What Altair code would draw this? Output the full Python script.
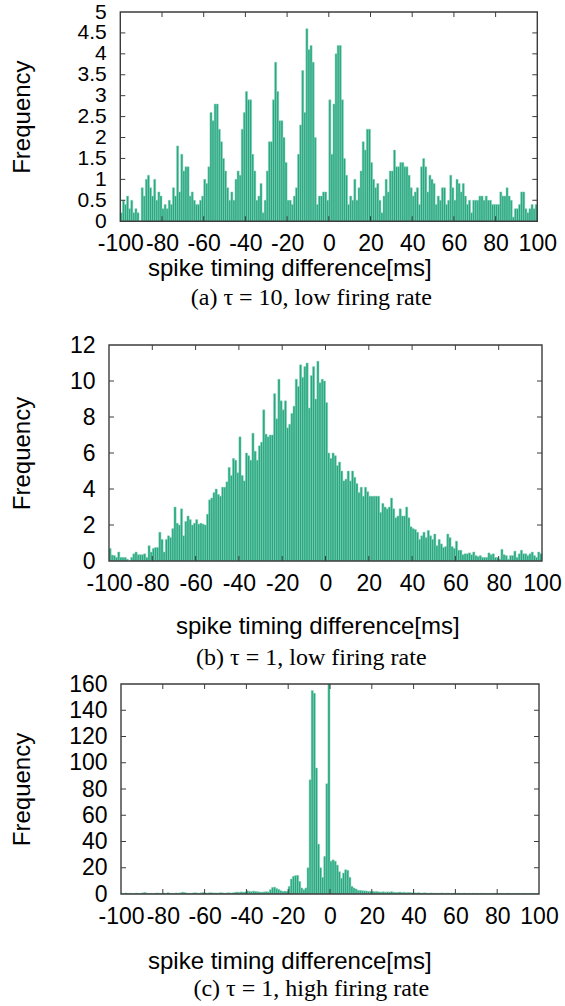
import altair as alt
import pandas as pd

# ---------------- data ----------------
bin_start = list(range(-100, 100))          # 1 ms bins, left edges

freq_a = [
    0.2, 0.5, 0.4, 0.6, 0.3, 0.5, 0.2, 0.3, 0.2, 0.0,
    0.8, 0.6, 1.0, 1.1, 0.8, 0.6, 1.0, 0.5, 0.7, 0.6,
    0.3, 0.4, 0.3, 0.5, 0.4, 0.8, 0.6, 1.8, 0.7, 1.6,
    1.2, 1.3, 1.3, 0.6, 0.7, 0.5, 0.4, 0.4, 0.5, 0.6,
    1.0, 0.9, 1.3, 2.6, 2.4, 2.8, 2.8, 2.2, 1.9, 1.5,
    1.2, 0.8, 0.5, 0.7, 0.5, 1.0, 1.2, 1.1, 2.2, 2.6,
    3.1, 2.9, 2.9, 1.6, 1.2, 0.5, 0.6, 0.9, 0.2, 0.5,
    1.2, 1.9, 1.9, 2.9, 3.8, 3.1, 2.4, 2.4, 2.0, 1.4,
    0.5, 0.5, 0.4, 0.6, 0.8, 1.6, 2.3, 3.6, 2.6, 4.6,
    4.1, 4.2, 3.8, 2.0, 0.4, 0.6, 0.6, 0.7, 0.7, 0.5,
    2.9, 1.6, 2.8, 4.0, 4.2, 4.2, 2.9, 1.5, 1.1, 0.4,
    0.6, 0.5, 1.0, 0.5, 0.8, 1.2, 1.9, 1.7, 2.2, 2.2,
    1.4, 1.0, 0.8, 0.9, 0.5, 0.2, 0.6, 1.0, 0.7, 1.2,
    1.2, 1.7, 1.3, 1.3, 1.4, 1.4, 1.3, 1.3, 1.1, 0.8,
    0.6, 0.7, 0.8, 0.4, 1.3, 1.5, 1.3, 0.7, 1.1, 1.0,
    0.9, 0.4, 0.6, 0.5, 0.8, 0.8, 0.4, 0.5, 1.1, 0.8,
    0.5, 1.0, 0.9, 0.7, 0.9, 0.6, 0.4, 0.5, 0.2, 0.5,
    0.5, 0.5, 0.6, 0.6, 0.5, 0.6, 0.5, 0.5, 0.4, 0.4,
    0.4, 0.4, 0.7, 0.6, 0.6, 0.8, 0.6, 0.5, 0.1, 0.3,
    0.3, 0.4, 0.7, 0.7, 0.3, 0.2, 0.3, 0.4, 0.3, 0.4,
]

freq_b = [
    0.7, 0.33, 0.3, 0.2, 0.5, 0.2, 0.2, 0.2, 0.1, 0.0,
    0.2, 0.4, 0.5, 0.35, 0.35, 0.35, 0.4, 0.2, 0.85, 0.5,
    0.7, 0.75, 0.75, 1.6, 1.2, 0.5, 1.2, 1.4, 1.3, 1.8,
    3.0, 2.1, 2.0, 2.9, 1.4, 2.2, 2.5, 2.3, 2.0, 2.1,
    2.3, 2.05, 2.1, 2.05, 2.0, 2.6, 3.4, 3.5, 3.8, 4.0,
    3.7, 3.6, 4.1, 4.1, 4.4, 5.2, 4.75, 5.7, 5.6, 4.9,
    6.9, 4.75, 4.45, 6.0, 5.85, 5.6, 7.1, 6.1, 5.6, 6.4,
    6.6, 8.4, 7.05, 6.9, 7.0, 7.0, 9.3, 7.9, 10.1, 8.9,
    8.4, 8.9, 7.4, 7.6, 8.2, 8.6, 10.1, 9.7, 10.9, 10.2,
    10.8, 11.0, 8.5, 10.3, 10.8, 9.0, 11.1, 9.9, 10.1, 10.0,
    8.8, 6.0, 5.7, 6.0, 5.85, 5.3, 5.5, 5.0, 4.45, 4.55,
    5.0, 4.45, 5.0, 4.65, 4.3, 3.8, 4.1, 3.6, 4.1, 3.85,
    3.6, 3.6, 3.6, 3.6, 3.6, 2.7, 3.2, 3.0, 2.9, 3.0,
    3.5, 2.9, 2.4, 2.5, 2.9, 2.5, 2.5, 3.0, 2.4, 1.9,
    1.8, 1.75, 1.6, 1.2, 1.4, 1.6, 1.3, 1.7, 1.4, 1.2,
    1.5, 0.85, 1.2, 0.95, 0.75, 0.8, 1.5, 1.3, 0.8, 0.7,
    1.1, 0.6, 0.6, 0.35, 0.4, 0.4, 0.45, 0.35, 0.5, 0.3,
    0.25, 0.3, 0.2, 0.2, 0.2, 0.45, 0.35, 0.4, 0.2, 0.2,
    0.1, 0.65, 0.35, 0.3, 0.1, 0.3, 0.3, 0.55, 0.2, 0.4,
    0.6, 0.4, 0.4, 0.3, 0.4, 0.5, 0.3, 0.2, 0.5, 0.4,
]

freq_c = [
    0.5, 0.3, 0.8, 0.4, 0.6, 0.2, 0.5, 0.7, 0.3, 0.5,
    0.9, 1.2, 0.6, 0.4, 0.5, 0.3, 0.6, 0.8, 0.5, 0.4,
    0.7, 0.5, 1.0, 0.6, 0.4, 0.5, 0.8, 0.6, 0.9, 1.4,
    1.1, 0.7, 0.6, 0.5, 0.8, 1.0, 0.7, 0.6, 0.9, 1.2,
    0.8, 0.7, 1.0, 0.9, 0.8, 0.8, 0.7, 1.0, 0.9, 0.6,
    0.8, 1.0, 0.7, 0.9, 1.2, 1.5, 1.3, 1.6, 1.4, 1.5,
    2.5, 2.0, 1.8, 2.2, 1.9, 1.7, 1.5, 1.4, 1.6, 1.8,
    1.6, 3.3, 5.0, 5.2, 4.2, 3.5, 2.5, 2.0, 2.2, 2.0,
    5.8, 11.4, 13.5, 14.0, 14.2, 9.6, 4.6, 3.3, 4.6, 20,
    87, 155, 153, 96, 38, 20, 12.7, 28.7, 84, 170,
    25, 26, 25, 22, 17, 12, 16, 18.5, 18, 12.7,
    5.8, 4.6, 3.8, 2.8, 2.8, 2.5, 2.4, 2.3, 2.0, 2.1,
    2.0, 1.8, 1.9, 1.6, 1.5, 1.7, 1.4, 1.6, 1.5, 1.8,
    1.4, 1.2, 1.3, 1.5, 1.1, 1.3, 1.0, 1.2, 1.1, 0.9,
    0.9, 0.8, 1.0, 0.7, 0.8, 0.9, 0.6, 0.7, 0.8, 0.6,
    0.7, 0.5, 0.6, 0.8, 0.5, 0.6, 0.7, 0.4, 0.5, 0.6,
    0.5, 0.7, 0.4, 0.5, 0.6, 0.4, 0.5, 0.3, 0.6, 0.4,
    0.5, 0.4, 0.6, 0.3, 0.5, 0.4, 0.3, 0.5, 0.4, 0.6,
    0.3, 0.4, 0.5, 0.3, 0.4, 0.6, 0.3, 0.4, 0.5, 0.3,
    0.4, 0.3, 0.5, 0.4, 0.3, 0.4, 0.5, 0.3, 0.4, 0.3,
]

x_ticks = [-100, -80, -60, -40, -20, 0, 20, 40, 60, 80, 100]
y_ticks_a = [0, 0.5, 1, 1.5, 2, 2.5, 3, 3.5, 4, 4.5, 5]
y_ticks_b = [0, 2, 4, 6, 8, 10, 12]
y_ticks_c = [0, 20, 40, 60, 80, 100, 120, 140, 160]
x_title = "spike timing difference[ms]"
y_title = "Frequency"
captions = ["(a) \u03c4 = 10, low firing rate",
            "(b) \u03c4 = 1, low firing rate",
            "(c) \u03c4 = 1, high firing rate"]

# ---------------- style ----------------
BAR = "#28a680"
EDGE = "#86d4b8"
FRAME = "#3c3c3c"
SANS = "Liberation Sans"
SERIF = "Liberation Serif"
FS = 23
TFS = 24
TICK = 5


def panel(freq, yticks, ymax, left, right, height,
          xt_x, xt_y, yt_x, cap_x, cap_y, caption, ylab_fs):
    df = pd.DataFrame({"x": bin_start,
                       "x2": [v + 1 for v in bin_start],
                       "f": freq,
                       "z": [0] * len(freq)})
    xs = alt.Scale(domain=[-100, 100], range=[left, right], nice=False, zero=False)
    ys = alt.Scale(domain=[0, ymax], nice=False, zero=True)

    xaxis = alt.Axis(
        values=x_ticks, tickCount=len(x_ticks),
        labelExpr="datum.value < 0 ? '-' + (-datum.value) : '' + datum.value",
        domain=False, ticks=False, tickSize=0, grid=False,
        labelPadding=11, labelFont=SANS, labelFontSize=FS, labelColor="black",
        labelOverlap=False, labelFlush=False,
        title=x_title, titleFont=SANS, titleFontSize=TFS, titleFontWeight="normal",
        titleColor="black", titleX=xt_x, titleY=xt_y, titleBaseline="middle",
    )
    yaxis = alt.Axis(
        values=yticks, tickCount=len(yticks), labelExpr="'' + datum.value",
        domain=False, ticks=False, tickSize=0, grid=False,
        labelPadding=14, labelFont=SANS, labelFontSize=ylab_fs, labelColor="black",
        labelOverlap=False, labelFlush=False, offset=-left,
        title=y_title, titleFont=SANS, titleFontSize=TFS, titleFontWeight="normal",
        titleColor="black", titleX=yt_x, titleY=height / 2, titleBaseline="middle",
        titleAngle=270,
    )

    bars = alt.Chart(df).mark_bar(
        fill=BAR, stroke=EDGE, strokeWidth=0.5, clip=True
    ).encode(
        x=alt.X("x:Q", scale=xs, axis=xaxis),
        x2="x2:Q",
        y=alt.Y("f:Q", scale=ys, axis=yaxis),
        y2="z:Q",
    )

    box = pd.DataFrame({"x0": [-100], "x1": [100], "y0": [0], "y1": [ymax]})
    frame = alt.Chart(box).mark_rect(
        filled=False, stroke=FRAME, strokeWidth=1.4
    ).encode(
        x=alt.X("x0:Q", scale=xs, axis=xaxis), x2="x1:Q",
        y=alt.Y("y0:Q", scale=ys, axis=yaxis), y2="y1:Q",
    )

    xt = pd.DataFrame({"t": x_ticks[1:-1]})
    yt = pd.DataFrame({"t": yticks[1:-1]})
    rule = dict(stroke=FRAME, strokeWidth=1)
    t_bottom = alt.Chart(xt).mark_rule(**rule).encode(
        x=alt.X("t:Q", scale=xs, axis=xaxis),
        y=alt.value(height), y2=alt.value(height - TICK))
    t_top = alt.Chart(xt).mark_rule(**rule).encode(
        x=alt.X("t:Q", scale=xs, axis=xaxis),
        y=alt.value(0), y2=alt.value(TICK))
    t_left = alt.Chart(yt).mark_rule(**rule).encode(
        y=alt.Y("t:Q", scale=ys, axis=yaxis),
        x=alt.value(left), x2=alt.value(left + TICK))
    t_right = alt.Chart(yt).mark_rule(**rule).encode(
        y=alt.Y("t:Q", scale=ys, axis=yaxis),
        x=alt.value(right), x2=alt.value(right - TICK))

    cap = alt.Chart(pd.DataFrame({"c": [caption]})).mark_text(
        font=SERIF, fontSize=24, baseline="middle", align="center", color="black"
    ).encode(x=alt.value(cap_x), y=alt.value(cap_y), text="c:N")

    return alt.layer(bars, frame, t_bottom, t_top, t_left, t_right, cap).properties(
        width=right, height=height)


pa = panel(freq_a, y_ticks_a, 5, 11.3, 428.3, 209.2,
           180.3, 47.3, -98.0, 202.3, 285.5, captions[0], 21)
pb = panel(freq_b, y_ticks_b, 12, 0.0, 433.0, 216.0,
           208.3, 65.0, -86.7, 202.3, 313.0, captions[1], FS)
pc = panel(freq_c, y_ticks_c, 160, 12.0, 430.0, 210.0,
           180.3, 67.5, -98.7, 202.3, 305.0, captions[2], FS)

chart = alt.vconcat(alt.vconcat(pa, pb, spacing=24), pc, spacing=3).properties(
    padding={"left": 10, "top": 1, "right": 0, "bottom": 0},
    background="white",
).configure_view(stroke=None).configure_axis(labelOverlap=False)

chart.save("out.html", embed_options={"renderer": "svg", "actions": False})
